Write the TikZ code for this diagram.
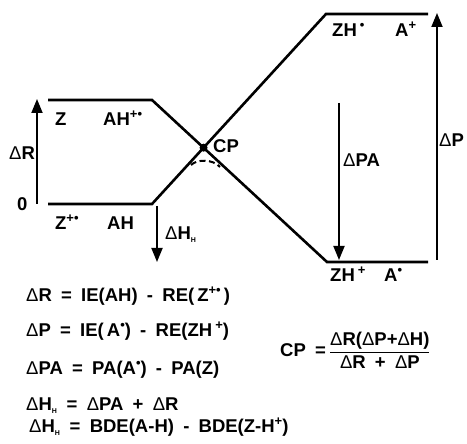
\documentclass[tikz,border=0pt]{standalone}
\usepackage{fontspec}
\setmainfont[WordSpace=1.8]{Liberation Sans}
\usetikzlibrary{arrows.meta, calc}
\newcommand{\dlt}{{\mdseries Δ}}
\newcommand{\up}[1]{\raisebox{0.42em}{\fontsize{13}{13}\selectfont #1}}
\newcommand{\rad}{\up{•}}
\newcommand{\sub}[1]{\textsubscript{\scriptsize #1}}
\tikzset{
  every picture/.style={font=\bfseries\fontsize{18.5}{20}\selectfont, x=1pt, y=1pt},
  level/.style={line width=2.6pt, line join=miter},
  gap/.style={-{Triangle[length=14pt, width=11pt]}, line width=1.8pt},
  lbl/.style={anchor=base west, inner sep=0pt},
  eqn/.style={anchor=base west, inner sep=0pt},
}

\begin{document}
\begin{tikzpicture}
  \useasboundingbox (0,0) rectangle (467,444);
  % energy levels
  \coordinate (rtop0) at (48,344);  \coordinate (rtop1) at (152,344);
  \coordinate (rbot0) at (48,240);  \coordinate (rbot1) at (152,240);
  \coordinate (ptop0) at (326,430); \coordinate (ptop1) at (428,430);
  \coordinate (pbot0) at (327,182); \coordinate (pbot1) at (428,182);
  \draw[level] (rtop0) -- (rtop1) -- (pbot0) -- (pbot1);
  \draw[level] (rbot0) -- (rbot1) -- (ptop0) -- (ptop1);
  \node[circle, fill, inner sep=0pt, minimum size=8pt] (cp)
    at (intersection of rtop1--pbot0 and rbot1--ptop0) {};
  \draw[line width=2pt, dash pattern=on 6pt off 3.5pt]
    (191,279) .. controls (197,285) and (213,285) .. (220,277);
  % state labels
  \node[lbl] (z) at (55,318) {Z};
  \node[lbl] (ahp) at (103,318) {AH\up{+•}};
  \node[lbl] (zp) at (55,214) {Z\up{+•}};
  \node[lbl] (ah) at (107,214) {AH};
  \node[lbl] (zh) at (332,407) {ZH\,\up{•}};
  \node[lbl] (ap) at (395,407) {A\up{+}};
  \node[lbl] (zhp) at (330,162) {ZH\,\up{+}};
  \node[lbl] (a) at (384,162) {A\rad};
  \node[lbl] (cplbl) at (213,291) {CP};
  \node[lbl] (zero) at (17,233) {0};
  % gaps
  \coordinate (r0) at (37,240);  \coordinate (r1) at (37,345);
  \coordinate (h0) at (157,238); \coordinate (h1) at (157,182);
  \coordinate (pa0) at (339,341); \coordinate (pa1) at (339,184);
  \coordinate (p0) at (437,184); \coordinate (p1) at (437,431);
  \draw[gap] (r0) -- (r1);
  \draw[gap] (h0) -- (h1);
  \draw[gap] (pa0) -- (pa1);
  \draw[gap] (p0) -- (p1);
  \node[lbl] (dr) at (9,284) {\dlt R};
  \node[lbl] (dh) at (165,204) {\dlt H\sub{H}};
  \node[lbl] (dpa) at (343,277) {\dlt PA};
  \node[lbl] (dp) at (439,297) {\dlt P};
  % definitions
  \node[eqn] (eq1) at (26,142) {\dlt R = IE(AH) - RE(\,Z\up{+•}\,)};
  \node[eqn] (eq2) at (26,107) {\dlt P = IE(\,A\rad) - RE(ZH\,\up{+})};
  \node[eqn] (eq3) at (26,69) {\dlt PA = PA(A\rad) - PA(Z)};
  \node[eqn] (eq4) at (26,33) {\dlt H\sub{H} = \dlt PA + \dlt R};
  \node[eqn] (eq5) at (29,11) {\dlt H\sub{H} = BDE(A-H) - BDE(Z-H\up{+})};
  \node[eqn] (cpeq) at (280,87) {CP =\,$\displaystyle\frac{\mbox{\dlt R(\dlt P+\dlt H)}}{\mbox{\dlt R + \dlt P}}$};
\end{tikzpicture}
\end{document}
